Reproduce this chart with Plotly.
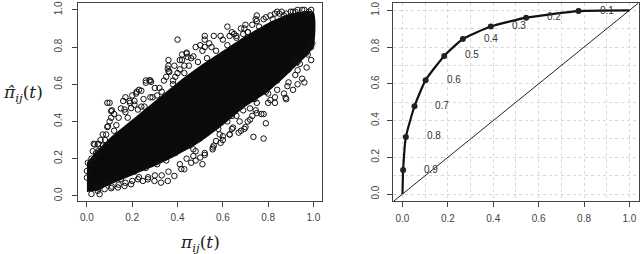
import plotly.graph_objects as go

# ---------------- Left panel data (pi_ij(t) vs estimated) ----------------
# Dense core of the scatter, read as lower/upper limits of the solid region
core_x = [0.0, 0.05, 0.1, 0.2, 0.3, 0.4, 0.5, 0.6, 0.7, 0.8, 0.9, 1.0]
core_upper = [0.18, 0.25, 0.31, 0.41, 0.51, 0.61, 0.70, 0.78, 0.86, 0.93, 0.98, 0.99]
core_lower = [0.02, 0.03, 0.06, 0.11, 0.16, 0.22, 0.29, 0.38, 0.48, 0.56, 0.67, 0.80]

# Individual points visible around the core
fringe_x = [0.40, 0.62, 0.09, 0.11, 0.03, 0.05, 0.26, 0.28, 0.34, 0.36, 0.36, 0.41, 0.42, 0.44, 0.48,
            0.50, 0.52, 0.56, 0.59, 0.54, 0.47, 0.17, 0.20, 0.22, 0.23, 0.21, 0.19, 0.16, 0.15, 0.12,
            0.14, 0.10, 0.09, 0.07, 0.06, 0.28, 0.31, 0.32, 0.38, 0.39, 0.41, 0.43, 0.45, 0.51, 0.64,
            0.66, 0.70, 0.75, 0.79, 0.83, 0.88, 0.91, 0.75, 0.745, 0.695, 0.69, 0.71, 0.63, 0.65, 0.52,
            0.52, 0.81, 0.84, 0.85, 0.90, 0.93, 0.44, 0.445, 0.42, 0.36, 0.386, 0.357, 0.364, 0.276,
            0.26, 0.283, 0.217, 0.24, 0.188, 0.10, 0.107, 0.107, 0.093, 0.085, 0.048, 0.034, 0.026,
            0.166, 0.195, 0.21, 0.225, 0.254, 0.0, 0.0, 0.004,
            0.735, 0.78, 0.79, 0.78, 0.83, 0.80, 0.75, 0.77, 0.745, 0.68, 0.67, 0.695, 0.70, 0.64,
            0.63, 0.60, 0.59, 0.56, 0.555, 0.52, 0.52, 0.51, 0.73, 0.72, 0.71,
            0.93, 0.92, 0.95, 0.96, 0.93, 0.885, 0.87, 0.84, 0.88, 0.83, 0.81, 0.80, 0.915, 0.94,
            0.975, 0.99, 0.98, 0.877, 0.91, 0.89, 0.97, 0.99,
            0.386, 0.357, 0.327, 0.298, 0.269, 0.247, 0.225, 0.195, 0.166, 0.137, 0.107, 0.078,
            0.048, 0.056, 0.43, 0.46, 0.47, 0.48, 0.417, 0.50, 0.48, 0.60, 0.586, 0.57, 0.556, 0.645,
            0.674, 0.63,
            0.58, 0.62, 0.66, 0.69, 0.72, 0.75, 0.47, 0.44, 0.41, 0.36, 0.33, 0.30, 0.27, 0.23, 0.20,
            0.17, 0.14, 0.11,
            0.05, 0.08, 0.13, 0.17, 0.25, 0.30, 0.35, 0.40, 0.46, 0.55, 0.60, 0.68, 0.73, 0.78, 0.86,
            0.95, 0.98,
            0.02, 0.04, 0.07, 0.12, 0.18, 0.24, 0.29, 0.33, 0.38, 0.43, 0.49, 0.53, 0.57, 0.62, 0.66,
            0.71, 0.76, 0.82, 0.87, 0.92, 0.96, 0.99,
            0.02, 0.05, 0.09, 0.15, 0.21, 0.26, 0.31, 0.35, 0.39, 0.45, 0.50, 0.54, 0.59, 0.64, 0.68,
            0.74, 0.79, 0.84, 0.89, 0.93, 0.97, 0.995]
fringe_y = [0.84, 0.91, 0.50, 0.46, 0.28, 0.28, 0.62, 0.62, 0.62, 0.70, 0.67, 0.73, 0.76, 0.77, 0.80,
            0.81, 0.86, 0.86, 0.86, 0.82, 0.75, 0.53, 0.54, 0.56, 0.57, 0.51, 0.50, 0.51, 0.47, 0.44,
            0.42, 0.40, 0.37, 0.33, 0.30, 0.53, 0.54, 0.58, 0.60, 0.64, 0.68, 0.70, 0.70, 0.78, 0.88,
            0.86, 0.92, 0.94, 0.96, 0.98, 0.98, 0.99, 0.97, 0.95, 0.90, 0.87, 0.88, 0.86, 0.87, 0.84,
            0.80, 0.97, 0.99, 0.98, 0.99, 1.00, 0.765, 0.747, 0.73, 0.73, 0.70, 0.684, 0.666, 0.622,
            0.608, 0.613, 0.55, 0.565, 0.51, 0.50, 0.455, 0.42, 0.374, 0.33, 0.276, 0.276, 0.24,
            0.464, 0.472, 0.49, 0.464, 0.48, 0.134, 0.098, 0.178,
            0.317, 0.308, 0.39, 0.44, 0.50, 0.50, 0.445, 0.44, 0.46, 0.35, 0.34, 0.36, 0.37, 0.36,
            0.33, 0.30, 0.285, 0.27, 0.25, 0.23, 0.22, 0.17, 0.43, 0.41, 0.40,
            0.675, 0.65, 0.63, 0.61, 0.60, 0.59, 0.55, 0.57, 0.52, 0.53, 0.515, 0.55, 0.73, 0.71,
            0.76, 0.80, 0.84, 0.527, 0.57, 0.61, 0.69, 0.73,
            0.107, 0.08, 0.071, 0.08, 0.089, 0.08, 0.089, 0.062, 0.053, 0.045, 0.041, 0.036,
            0.027, 0.009, 0.143, 0.178, 0.214, 0.24, 0.144, 0.206, 0.19, 0.32, 0.33, 0.295, 0.26, 0.367,
            0.40, 0.33,
            0.36, 0.40, 0.43, 0.46, 0.47, 0.50, 0.25, 0.20, 0.17, 0.13, 0.11, 0.11, 0.10, 0.10, 0.08,
            0.07, 0.06, 0.05,
            0.24, 0.30, 0.38, 0.45, 0.52, 0.58, 0.64, 0.66, 0.74, 0.80, 0.84, 0.90, 0.92, 0.95, 0.99,
            1.00, 0.99,
            0.20, 0.23, 0.27, 0.35, 0.42, 0.48, 0.53, 0.56, 0.62, 0.66, 0.72, 0.74, 0.78, 0.81, 0.85,
            0.88, 0.91, 0.95, 0.97, 0.99, 1.00, 1.00,
            0.01, 0.04, 0.07, 0.09, 0.13, 0.15, 0.17, 0.19, 0.23, 0.27, 0.31, 0.35, 0.40, 0.43, 0.48,
            0.52, 0.56, 0.62, 0.68, 0.72, 0.77, 0.82]

# ---------------- Right panel data (ROC-type curve) ----------------
thresholds = ["0.9", "0.8", "0.7", "0.6", "0.5", "0.4", "0.3", "0.2", "0.1"]
fpr = [0.003, 0.015, 0.053, 0.102, 0.184, 0.266, 0.389, 0.545, 0.776]
tpr = [0.131, 0.311, 0.478, 0.620, 0.752, 0.844, 0.912, 0.960, 0.996]
curve_start = (0.0, 0.0)
curve_end = (1.0, 1.0)

tick_vals = [0.0, 0.2, 0.4, 0.6, 0.8, 1.0]
tick_text = ["0.0", "0.2", "0.4", "0.6", "0.8", "1.0"]

# ---------------- Figure ----------------
W, H = 640, 254
XR = [-0.04, 1.04]
YR_L = [-0.03, 1.037]
YR_R = [-0.04, 1.04]

fig = go.Figure()

band_x = core_x + core_x[::-1]
band_y = core_upper + core_lower[::-1]
fig.add_trace(go.Scatter(x=band_x, y=band_y, fill="toself", fillcolor="#0a0a0a",
                         line=dict(color="#0a0a0a", width=0, shape="spline", smoothing=0.6),
                         mode="lines", hoverinfo="skip", showlegend=False, xaxis="x", yaxis="y"))
fig.add_trace(go.Scatter(x=fringe_x, y=fringe_y, mode="markers",
                         marker=dict(symbol="circle-open", size=5.5, color="#111",
                                     line=dict(width=1, color="#111")),
                         showlegend=False, xaxis="x", yaxis="y"))

# diagonal reference line in right panel
fig.add_trace(go.Scatter(x=XR, y=XR, mode="lines", line=dict(color="#222", width=1),
                         showlegend=False, xaxis="x2", yaxis="y2", hoverinfo="skip"))
cx = [curve_start[0]] + fpr + [curve_end[0]]
cy = [curve_start[1]] + tpr + [curve_end[1]]
fig.add_trace(go.Scatter(x=cx, y=cy, mode="lines",
                         line=dict(color="#111", width=2.2, shape="spline", smoothing=0.5),
                         showlegend=False, xaxis="x2", yaxis="y2"))
fig.add_trace(go.Scatter(x=fpr, y=tpr, mode="markers",
                         marker=dict(symbol="circle", size=6, color="#222"),
                         showlegend=False, xaxis="x2", yaxis="y2"))
for t, xv, yv in zip(thresholds, fpr, tpr):
    fig.add_annotation(x=xv, y=yv, xref="x2", yref="y2", text=t, showarrow=False,
                       xanchor="center", yanchor="middle",
                       xshift=28, yshift=1, font=dict(family="Liberation Sans", size=10, color="#333"))

axis_common = dict(showline=True, mirror=True, linecolor="#444", linewidth=1,
                   ticks="outside", ticklen=5, tickwidth=1, tickcolor="#444",
                   tickvals=tick_vals, ticktext=tick_text, zeroline=False,
                   ticklabeloverflow="allow",
                   tickfont=dict(family="Liberation Sans", size=10, color="#444"))

dom_y = [1 - 201 / H, 1 - 1 / H]
grid_style = dict(showgrid=True, gridcolor="#d8d8d8", griddash="dot", gridwidth=1)
fig.update_layout(
    width=W, height=H, margin=dict(l=0, r=0, t=0, b=0),
    paper_bgcolor="white", plot_bgcolor="white", showlegend=False,
    xaxis=dict(domain=[78 / W, 323 / W], range=XR, showgrid=False, anchor="y",
               ticklabelstandoff=2, **axis_common),
    yaxis=dict(domain=dom_y, range=YR_L, showgrid=False, anchor="x", tickangle=-90,
               ticklabelstandoff=6, **axis_common),
    xaxis2=dict(domain=[394 / W, 639.5 / W], range=XR, anchor="y2",
                minor=dict(dtick=0.1, tick0=0, ticks="", **grid_style),
                ticklabelstandoff=3, **grid_style, **axis_common),
    yaxis2=dict(domain=dom_y, range=YR_R, anchor="x2", tickangle=-90,
                minor=dict(dtick=0.1, tick0=0, ticks="", **grid_style),
                ticklabelstandoff=4, **grid_style, **axis_common),
)

# Axis titles of left panel
fig.add_annotation(x=200 / W, y=1 - 243 / H, xref="paper", yref="paper",
                   xanchor="center", yanchor="middle",
                   text="<i>π</i><sub><i>ij</i></sub>(<i>t</i>)", showarrow=False,
                   font=dict(family="DejaVu Serif", size=17, color="#222"))
fig.add_annotation(x=23 / W, y=1 - 92 / H, xref="paper", yref="paper",
                   xanchor="center", yanchor="middle",
                   text="<i>π̂</i><sub><i>ij</i></sub>(<i>t</i>)", showarrow=False,
                   font=dict(family="DejaVu Serif", size=17, color="#222"))

fig.write_html("out.html", config={"displayModeBar": False},
               post_script="document.body.style.margin='0';document.body.style.overflow='hidden';")
